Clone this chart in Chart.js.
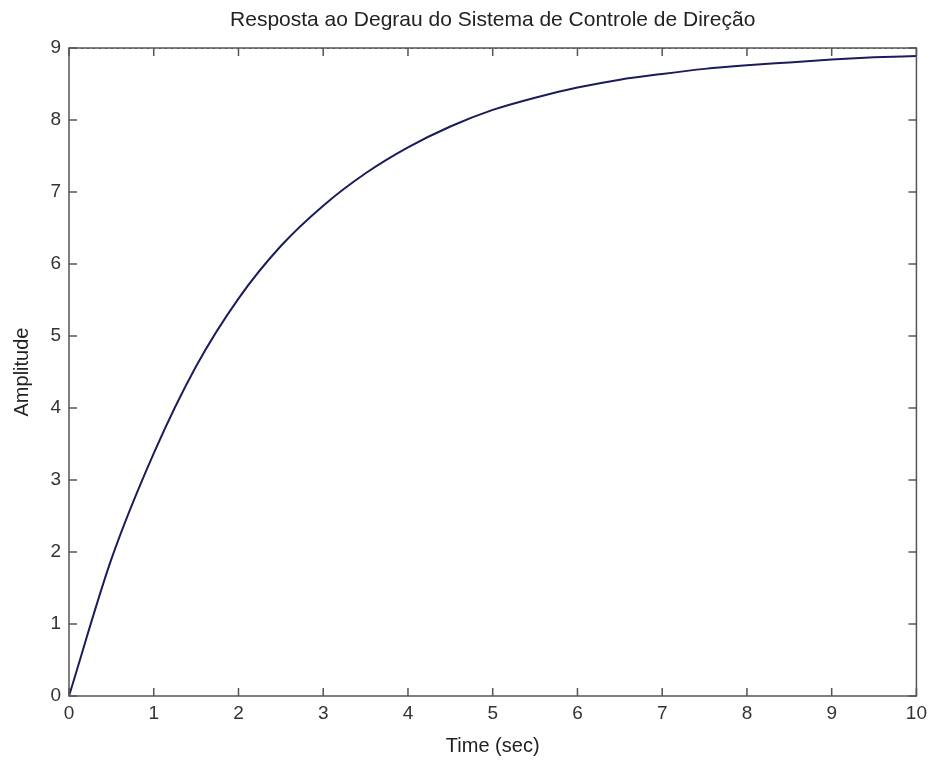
<!DOCTYPE html>
<html>
<head>
<meta charset="utf-8">
<script src="https://cdn.jsdelivr.net/npm/chart.js@4/dist/chart.umd.min.js"></script>
<style>
  html, body { margin: 0; padding: 0; background: #fff; }
  #wrap { width: 933px; height: 767px; }
</style>
</head>
<body>
<div id="wrap"><canvas id="Chart" width="933" height="767"></canvas></div>
<script>
// step response
var timeSec = [0, 0.5, 1, 1.5, 2, 2.5, 3, 3.5, 4, 4.5, 5, 5.5, 6, 6.5, 7, 7.5, 8, 8.5, 9, 9.5, 10];
var amplitude = [0, 1.9, 3.37, 4.58, 5.52, 6.25, 6.81, 7.26, 7.62, 7.91, 8.14, 8.31, 8.45, 8.56, 8.64, 8.71, 8.76, 8.80, 8.84, 8.87, 8.89];
var finalValue = 9;
var xTicks = [0, 1, 2, 3, 4, 5, 6, 7, 8, 9, 10];
var yTicks = [0, 1, 2, 3, 4, 5, 6, 7, 8, 9];
var chartTitle = 'Resposta ao Degrau do Sistema de Controle de Direção';

var fontFam = "'Liberation Sans', Arial, sans-serif";

var stepPoints = timeSec.map(function (t, i) { return { x: t, y: amplitude[i] }; });
var finalLine = [{ x: xTicks[0], y: finalValue }, { x: xTicks[xTicks.length - 1], y: finalValue }];

// box round the plot with ticks pointing inward, like matlab
// title is centred over the axes box, not the whole canvas
var boxPlugin = {
    id: 'box',
    afterDatasetsDraw: function (chart) {
        var c = chart.ctx, a = chart.chartArea;
        var xs = chart.scales.x, ys = chart.scales.y;
        var len = 8;
        c.save();
        c.strokeStyle = '#555';
        c.lineWidth = 1.5;
        c.strokeRect(a.left, a.top, a.right - a.left, a.bottom - a.top);
        c.beginPath();
        xTicks.forEach(function (v) {
            var px = xs.getPixelForValue(v);
            c.moveTo(px, a.bottom); c.lineTo(px, a.bottom - len);
            c.moveTo(px, a.top); c.lineTo(px, a.top + len);
        });
        yTicks.forEach(function (v) {
            var py = ys.getPixelForValue(v);
            c.moveTo(a.left, py); c.lineTo(a.left + len, py);
            c.moveTo(a.right, py); c.lineTo(a.right - len, py);
        });
        c.stroke();

        c.fillStyle = '#222';
        c.font = '21px ' + fontFam;
        c.textAlign = 'center';
        c.textBaseline = 'middle';
        c.fillText(chartTitle, (a.left + a.right) / 2, 20);
        c.restore();
    }
};

var ctx = document.getElementById("Chart").getContext('2d');
var myChart = new Chart(ctx, {
    type: 'scatter',
    data: {
        datasets: [{
            label: 'final',
            data: finalLine,
            showLine: true,
            borderColor: '#111',
            borderWidth: 1.5,
            borderDash: [2, 4],
            pointRadius: 0
        }, {
            label: 'Step',
            data: stepPoints,
            showLine: true,
            borderColor: '#1c1c5c',
            borderWidth: 2,
            pointRadius: 0,
            cubicInterpolationMode: 'monotone'
        }]
    },
    plugins: [boxPlugin],
    options: {
        responsive: false,
        animation: false,
        layout: { padding: { left: 0, right: 15, top: 48, bottom: 0 } },
        plugins: {
            legend: { display: false },
            tooltip: { enabled: false },
            title: { display: false }
        },
        scales: {
            x: {
                type: 'linear',
                min: 0, max: 10,
                afterFit: function (s) { s.height = 71; },
                afterBuildTicks: function (s) { s.ticks = xTicks.map(function (v) { return { value: v }; }); },
                grid: { display: false, drawTicks: false },
                border: { display: false },
                ticks: { color: '#333', padding: 6, font: { family: fontFam, size: 19 } },
                title: {
                    display: true,
                    text: 'Time (sec)',
                    color: '#222',
                    font: { family: fontFam, size: 20, lineHeight: 1.2 },
                    padding: { top: 0, bottom: 9 }
                }
            },
            y: {
                type: 'linear',
                min: 0, max: 9,
                afterFit: function (s) { s.width = 69; },
                afterBuildTicks: function (s) { s.ticks = yTicks.map(function (v) { return { value: v }; }); },
                grid: { display: false, drawTicks: false },
                border: { display: false },
                ticks: { color: '#333', padding: 8, font: { family: fontFam, size: 19 } },
                title: {
                    display: true,
                    text: 'Amplitude',
                    color: '#222',
                    font: { family: fontFam, size: 20, lineHeight: 1.2 },
                    padding: { top: 10, bottom: 0 }
                }
            }
        }
    }
});
</script>
</body>
</html>
